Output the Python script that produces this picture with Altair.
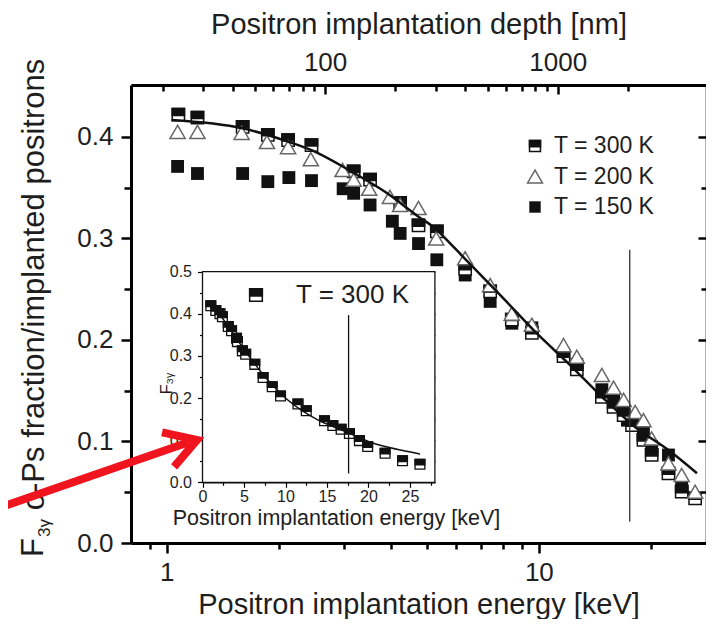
import altair as alt
import pandas as pd

# ---------------- values ----------------
E_300K = [1.075, 1.21, 1.60, 1.87, 2.12, 2.45, 3.18, 3.52, 4.24, 4.75, 5.32, 6.34, 7.40,
          8.46, 9.58, 11.65, 12.65, 14.77, 15.88, 16.9, 17.8, 19.1, 20.1, 22.3, 24.2, 26.3]
F_300K = [0.422, 0.419, 0.410, 0.402, 0.397, 0.392, 0.366, 0.358, 0.335, 0.313, 0.307, 0.270, 0.248,
          0.220, 0.207, 0.184, 0.171, 0.144, 0.134, 0.126, 0.116, 0.1015, 0.0867, 0.0687, 0.0505, 0.044]

E_200K = [1.07, 1.21, 1.59, 1.86, 2.12, 2.44, 2.97, 3.18, 3.50, 3.98, 4.24, 4.75, 5.30, 6.34,
          7.40, 8.46, 9.58, 11.65, 12.65, 14.77, 15.88, 16.9, 18.15, 19.1, 20.1, 22.3, 24.2, 26.3]
F_200K = [0.405, 0.405, 0.404, 0.395, 0.390, 0.378, 0.3675, 0.358, 0.349, 0.341, 0.333, 0.330, 0.300, 0.2805,
          0.254, 0.226, 0.215, 0.195, 0.1835, 0.1655, 0.153, 0.141, 0.129, 0.121, 0.103, 0.0785, 0.067, 0.0505]

E_150K = [1.07, 1.21, 1.60, 1.87, 2.13, 2.45, 2.98, 3.18, 3.52, 4.04, 4.24, 4.75, 5.32, 6.34,
          7.40, 8.46, 9.58, 11.65, 12.65, 14.77, 15.88, 16.9, 17.3, 19.1, 20.1, 22.3, 24.2]
F_150K = [0.371, 0.364, 0.364, 0.356, 0.360, 0.357, 0.349, 0.3445, 0.333, 0.317, 0.305, 0.295, 0.279, 0.264,
          0.238, 0.2165, 0.212, 0.186, 0.176, 0.151, 0.141, 0.131, 0.121, 0.110, 0.095, 0.0867, 0.057]

fit_E = [1.03, 1.6, 2.12, 2.45, 3.14, 3.86, 4.75, 5.26, 5.83, 6.45, 7.95, 9.77, 12.0, 14.77, 18.1, 22.3, 26.6]
fit_F = [0.4167, 0.4085, 0.3954, 0.387, 0.3658, 0.346, 0.3215, 0.310, 0.2936, 0.277, 0.2427, 0.2082,
         0.177, 0.1441, 0.1146, 0.0916, 0.0687]

vline_E = [17.55, 17.55]
vline_F = [0.021, 0.289]

inset_E = [1.0, 1.6, 2.1, 2.4, 3.1, 3.5, 4.1, 4.2, 4.8, 5.2, 6.3, 7.3, 8.4, 9.4, 11.5, 12.5,
           14.7, 15.7, 16.7, 17.7, 18.9, 19.9, 22.0, 24.1, 26.2]
inset_F = [0.419, 0.408, 0.400, 0.393, 0.370, 0.360, 0.342, 0.334, 0.312, 0.304, 0.280, 0.249, 0.227, 0.205,
           0.186, 0.170, 0.146, 0.135, 0.126, 0.116, 0.099, 0.085, 0.069, 0.051, 0.043]

inset_fit_E = [1, 2, 3, 4, 5, 6, 7, 8, 9, 10, 12, 14, 16, 18, 20, 22, 24, 26.2]
inset_fit_F = [0.42, 0.40, 0.373, 0.344, 0.316, 0.289, 0.263, 0.240, 0.219, 0.200, 0.170, 0.147,
               0.130, 0.114, 0.097, 0.085, 0.076, 0.067]

inset_vline_E = [17.6, 17.6]
inset_vline_F = [0.021, 0.397]

# red annotation arrow (main-axis coordinates): shaft, then head
arrow_seg = ["shaft", "shaft", "head", "head", "head"]
arrow_E = [0.36, 1.15, 0.972, 1.2066, 1.0468]
arrow_F = [0.0355, 0.0995, 0.1090, 0.1015, 0.0750]

x_tick_values = [0.8, 0.9, 1, 2, 3, 4, 5, 6, 7, 8, 9, 10, 20]
y_tick_values = [0.0, 0.05, 0.1, 0.15, 0.2, 0.25, 0.3, 0.35, 0.4]
depth_tick_values = [20, 30, 40, 50, 60, 70, 80, 90, 100, 200, 300, 400, 500, 600, 700, 800, 900, 1000, 2000]
inset_x_ticks = [0, 2.5, 5, 7.5, 10, 12.5, 15, 17.5, 20, 22.5, 25, 27.5]
inset_y_ticks = [0.0, 0.05, 0.1, 0.15, 0.2, 0.25, 0.3, 0.35, 0.4, 0.45, 0.5]
legend_labels = ["T = 300 K", "T = 200 K", "T = 150 K"]
legend_rows = [0, 1, 2]
inset_legend_label = ["T = 300 K"]
y_title_main = "o-Ps fraction/implanted positrons"
y_title_sym = ["F"]
y_title_sub = ["3γ"]

# ---------------- layout / styling ----------------
FONT = "Liberation Sans"
TXT = "#1e1e1e"
W, H = 575, 458
E_dom = [0.802, 28.13]
F_dom = [0.0, 0.4512]
E_100nm = 2.665   # energy at 100 nm depth (axis conversion, depth ~ E^1.6)
N_EXP = 1.6
depth_dom = [100 * (e / E_100nm) ** N_EXP for e in E_dom]
iE_dom = [0, 28]
iF_dom = [0, 0.5]
i_xr = [71.5, 303.9]
i_yr = [397.3, 186.7]

HALF_PATH = "M-1,-1H1V0.15H-1Z"

df300 = pd.DataFrame({"E": E_300K, "F": F_300K})
df200 = pd.DataFrame({"E": E_200K, "F": F_200K})
df150 = pd.DataFrame({"E": E_150K, "F": F_150K})
dffit = pd.DataFrame({"E": fit_E, "F": fit_F})
dfv = pd.DataFrame({"E": vline_E, "F": vline_F})
dfi = pd.DataFrame({"E": inset_E, "F": inset_F})
dfifit = pd.DataFrame({"E": inset_fit_E, "F": inset_fit_F})
dfiv = pd.DataFrame({"E": inset_vline_E, "F": inset_vline_F})
dfarrow = pd.DataFrame({"seg": arrow_seg, "E": arrow_E, "F": arrow_F, "o": list(range(len(arrow_E)))})
dfdepth = pd.DataFrame({"d": depth_tick_values})
dfleg = pd.DataFrame({"label": legend_labels, "row": legend_rows})
dfileg = pd.DataFrame({"label": inset_legend_label})
dfysym = pd.DataFrame({"t": y_title_sym})
dfysub = pd.DataFrame({"t": y_title_sub})


def xs():
    return alt.Scale(type="log", domain=E_dom, nice=False)


def ys():
    return alt.Scale(domain=F_dom, nice=False, zero=False)


def ixs():
    return alt.Scale(domain=iE_dom, range=i_xr, nice=False, zero=False)


def iys():
    return alt.Scale(domain=iF_dom, range=i_yr, nice=False, zero=False)


base_axis = dict(grid=False, labelFont=FONT, titleFont=FONT, labelColor=TXT, titleColor=TXT,
                 tickColor="black", domainColor="black", titleFontWeight="normal",
                 labelOverlap=False, labelFlush=False)

major_x = "datum.value == 1 || datum.value == 10"
ax_bottom = alt.Axis(orient="bottom", values=x_tick_values, format="~g",
                     labelExpr=f"{major_x} ? datum.label : ''",
                     tickSize={"condition": {"test": major_x, "value": 10}, "value": 6},
                     tickWidth=2.5, domainWidth=3, labelFontSize=26, labelPadding=6,
                     title="Positron implantation energy [keV]", titleFontSize=29,
                     titleBaseline="alphabetic", titleY=70, titleAlign="center",
                     **base_axis)

major_y = "round(datum.value * 100) % 10 == 0"
ax_left = alt.Axis(orient="left", values=y_tick_values,
                   labelExpr=f"{major_y} ? format(datum.value, '.1f') : ''",
                   tickSize={"condition": {"test": major_y, "value": 10}, "value": 7},
                   tickWidth=2.5, domainWidth=3, labelFontSize=26, labelPadding=8,
                   title=y_title_main, titleFontSize=31, titleX=-88, titleY=199,
                   titleBaseline="alphabetic", titleAlign="center", titleAngle=270,
                   **base_axis)

# right frame: ticks drawn on the frame edge, pointing into the plot
ax_right = alt.Axis(orient="left", offset=-W, values=y_tick_values, labels=False, title=None,
                    tickSize={"condition": {"test": major_y, "value": 8}, "value": 5},
                    tickWidth=2.5, domainWidth=1.6, **base_axis)

major_d = "datum.value == 100 || datum.value == 1000"
ax_top = alt.Axis(orient="top", values=[100, 1000], format="d", ticks=False,
                  domainWidth=3, labelFontSize=26, labelPadding=10,
                  title="Positron implantation depth [nm]", titleFontSize=29, titlePadding=10,
                  **base_axis)
ax_top_ticks = alt.Axis(orient="bottom", offset=-H, values=depth_tick_values, labels=False,
                        domain=False, title=None,
                        tickSize={"condition": {"test": major_d, "value": 9}, "value": 6},
                        tickWidth=2.5, **base_axis)

major_ix = "datum.value % 5 == 0"
ax_ibottom = alt.Axis(orient="bottom", offset=-(H - i_yr[0]), values=inset_x_ticks,
                      labelExpr=f"{major_ix} ? datum.label : ''", format="~g",
                      tickSize={"condition": {"test": major_ix, "value": 5}, "value": 3},
                      tickWidth=1.2, domainWidth=1.5, labelFontSize=16, labelPadding=1,
                      title="Positron implantation energy [keV]", titleFontSize=21.5, titlePadding=3,
                      titleX=205, titleAlign="center",
                      **base_axis)
ax_ileft = alt.Axis(orient="left", offset=-i_xr[0], values=inset_y_ticks,
                    labelExpr=f"{major_y} ? format(datum.value, '.1f') : ''",
                    tickSize={"condition": {"test": major_y, "value": 5}, "value": 3},
                    tickWidth=1.2, domainWidth=1.5, labelFontSize=16, labelPadding=6,
                    title="F₃ᵧ", titleFontSize=16, titleX=-31, titleY=298,
                    titleBaseline="alphabetic", titleAlign="center", titleAngle=270,
                    **base_axis)
ax_itop = alt.Axis(orient="bottom", offset=-(H - i_yr[1]), values=inset_x_ticks, labels=False,
                   domain=False, title=None, tickSize=4, tickWidth=1.2, **base_axis)
ax_iright = alt.Axis(orient="left", offset=-i_xr[1], values=inset_y_ticks, labels=False,
                     domain=False, title=None, tickSize=4, tickWidth=1.2, **base_axis)

# ---------------- main panel ----------------
p150 = alt.Chart(df150).mark_point(shape="square", filled=True, color="#111", size=165, opacity=1).encode(
    x=alt.X("E:Q", scale=xs(), axis=ax_bottom), y=alt.Y("F:Q", scale=ys(), axis=ax_left))

p300a = alt.Chart(df300).mark_point(shape="square", fill="white", stroke="#111", strokeWidth=1.5,
                                     size=150, opacity=1, fillOpacity=1).encode(
    x=alt.X("E:Q", scale=xs(), axis=None), y=alt.Y("F:Q", scale=ys(), axis=ax_right))
p300b = alt.Chart(df300).mark_point(shape=HALF_PATH, filled=True, color="#111", size=150, opacity=1,
                                     stroke="#111", strokeWidth=1.5).encode(
    x=alt.X("E:Q", scale=xs(), axis=None), y=alt.Y("F:Q", scale=ys(), axis=None))

p200 = alt.Chart(df200).mark_point(shape="triangle-up", fill="white", fillOpacity=1, stroke="#666",
                                    strokeWidth=1.5, size=230, opacity=1).encode(
    x=alt.X("E:Q", scale=xs(), axis=None), y=alt.Y("F:Q", scale=ys(), axis=None))

fit = alt.Chart(dffit).mark_line(color="#111", strokeWidth=2.5, interpolate="monotone").encode(
    x=alt.X("E:Q", scale=xs(), axis=None), y=alt.Y("F:Q", scale=ys(), axis=None))

vline = alt.Chart(dfv).mark_line(color="#333", strokeWidth=1.3).encode(
    x=alt.X("E:Q", scale=xs(), axis=None), y=alt.Y("F:Q", scale=ys(), axis=None))

top_lab = alt.Chart(dfdepth).mark_point(opacity=0).encode(
    x=alt.X("d:Q", scale=alt.Scale(type="log", domain=depth_dom, nice=False), axis=ax_top),
    y=alt.value(0))
top_ticks = alt.Chart(dfdepth).mark_point(opacity=0).encode(
    x=alt.X("d:Q", scale=alt.Scale(type="log", domain=depth_dom, nice=False), axis=ax_top_ticks),
    y=alt.value(0))

# subscript part of the y-axis title: "F" + "3γ"
ysym = alt.Chart(dfysym).mark_text(align="left", baseline="alphabetic", angle=270, font=FONT,
                                    fontSize=31, color=TXT).encode(
    x=alt.value(-88), y=alt.value(472), text="t:N")
ysub = alt.Chart(dfysub).mark_text(align="left", baseline="alphabetic", angle=270, font=FONT,
                                    fontSize=17, color=TXT).encode(
    x=alt.value(-81), y=alt.value(452), text="t:N")

# main legend
leg_y = alt.Y("row:Q", scale=alt.Scale(domain=[0, 2], range=[61, 122]), axis=None)
leg_text = alt.Chart(dfleg).mark_text(align="left", baseline="middle", font=FONT, fontSize=23,
                                       color=TXT).encode(x=alt.value(423), y=leg_y, text="label:N")
leg_300a = alt.Chart(dfleg).transform_filter("datum.row == 0").mark_point(
    shape="square", fill="white", stroke="#111", strokeWidth=1.5, size=120, opacity=1, fillOpacity=1).encode(
    x=alt.value(404), y=leg_y)
leg_300b = alt.Chart(dfleg).transform_filter("datum.row == 0").mark_point(
    shape=HALF_PATH, filled=True, color="#111", stroke="#111", strokeWidth=1.5, size=120, opacity=1).encode(
    x=alt.value(404), y=leg_y)
leg_200 = alt.Chart(dfleg).transform_filter("datum.row == 1").mark_point(
    shape="triangle-up", fill="white", fillOpacity=1, stroke="#666", strokeWidth=1.5, size=220, opacity=1).encode(
    x=alt.value(404), y=leg_y)
leg_150 = alt.Chart(dfleg).transform_filter("datum.row == 2").mark_point(
    shape="square", filled=True, color="#111", size=130, opacity=1).encode(
    x=alt.value(404), y=leg_y)

# ---------------- inset ----------------
i_frame = alt.Chart(dfileg).mark_rect(fill="white", stroke="#111", strokeWidth=1.3).encode(
    x=alt.XDatum(iE_dom[0], type="quantitative", scale=ixs(), axis=ax_ibottom),
    x2=alt.X2Datum(iE_dom[1]),
    y=alt.YDatum(iF_dom[0], type="quantitative", scale=iys(), axis=ax_ileft),
    y2=alt.Y2Datum(iF_dom[1]))
i_topticks = alt.Chart(dfi).mark_point(opacity=0).encode(
    x=alt.X("E:Q", scale=ixs(), axis=ax_itop), y=alt.Y("F:Q", scale=iys(), axis=ax_iright))
i_pa = alt.Chart(dfi).mark_point(shape="square", fill="white", stroke="#111", strokeWidth=1.3,
                                  size=95, opacity=1, fillOpacity=1).encode(
    x=alt.X("E:Q", scale=ixs(), axis=None), y=alt.Y("F:Q", scale=iys(), axis=None))
i_pb = alt.Chart(dfi).mark_point(shape=HALF_PATH, filled=True, color="#111", stroke="#111", strokeWidth=1.3,
                                  size=95, opacity=1).encode(
    x=alt.X("E:Q", scale=ixs(), axis=None), y=alt.Y("F:Q", scale=iys(), axis=None))
i_fit = alt.Chart(dfifit).mark_line(color="#111", strokeWidth=1.5, interpolate="monotone").encode(
    x=alt.X("E:Q", scale=ixs(), axis=None), y=alt.Y("F:Q", scale=iys(), axis=None))
i_vline = alt.Chart(dfiv).mark_line(color="#111", strokeWidth=1.3).encode(
    x=alt.X("E:Q", scale=ixs(), axis=None), y=alt.Y("F:Q", scale=iys(), axis=None))
i_leg_a = alt.Chart(dfileg).mark_point(shape="square", fill="white", stroke="#111", strokeWidth=1.5,
                                        size=160, opacity=1, fillOpacity=1).encode(
    x=alt.value(125), y=alt.value(210))
i_leg_b = alt.Chart(dfileg).mark_point(shape=HALF_PATH, filled=True, color="#111", stroke="#111",
                                        strokeWidth=1.5, size=160, opacity=1).encode(
    x=alt.value(125), y=alt.value(210))
i_leg_t = alt.Chart(dfileg).mark_text(align="left", baseline="middle", font=FONT, fontSize=26,
                                       color=TXT).encode(x=alt.value(165), y=alt.value(210), text="label:N")

# ---------------- arrow ----------------
arrow = alt.Chart(dfarrow).mark_line(color="#f0141e", strokeWidth=8, strokeCap="butt",
                                      strokeJoin="miter", clip=False).encode(
    x=alt.X("E:Q", scale=xs(), axis=None), y=alt.Y("F:Q", scale=ys(), axis=None),
    detail="seg:N", order="o:Q")

chart = alt.layer(
    p150, p300a, p300b, p200, fit, vline, top_lab, top_ticks, ysym, ysub,
    leg_300a, leg_300b, leg_200, leg_150, leg_text,
    i_frame, i_topticks, i_pa, i_pb, i_fit, i_vline, i_leg_a, i_leg_b, i_leg_t,
    arrow,
).resolve_scale(x="independent", y="independent").properties(
    width=W, height=H,
    autosize=alt.AutoSizeParams(type="none"),
    padding={"left": 123, "top": 77, "right": 0, "bottom": 76},
).configure_view(stroke=None).configure(background="white")

chart.save("out.html", embed_options={"renderer": "svg", "actions": False})
